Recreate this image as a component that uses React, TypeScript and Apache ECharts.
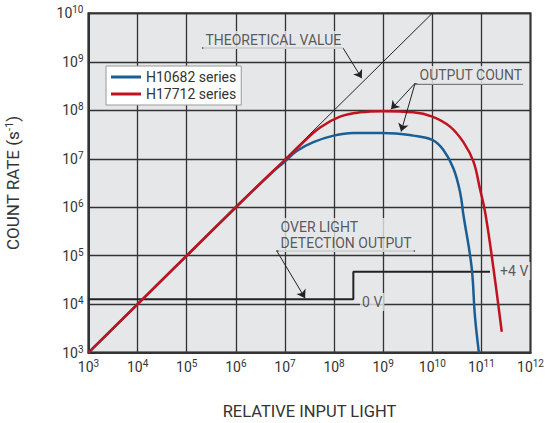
import React, { useEffect, useRef } from "react";
import * as echarts from "echarts";

// ---- data ----
const seriesNames = ["H10682 series", "H17712 series"];

// H10682 series: [relative input light, count rate]
const h10682: [number, number][] = [
  [1e3, 1e3], [1e4, 1e4], [1e5, 1e5], [1e6, 1e6], [5e6, 4.8e6], [1e7, 8.8e6],
  [1.74e7, 1.45e7], [3.8e7, 2.2e7], [9.8e7, 3.0e7], [2.45e8, 3.4e7], [1e9, 3.4e7],
  [4.1e9, 3.0e7], [1e10, 2.45e7], [1.7e10, 1.5e7], [2.7e10, 6.3e6], [3.7e10, 2.0e6],
  [4.3e10, 7e5], [6.3e10, 6e4], [7.4e10, 5.6e3], [8.9e10, 1e3],
];

// H17712 series
const h17712: [number, number][] = [
  [1e3, 1e3], [1e4, 1e4], [1e5, 1e5], [1e6, 1e6], [5e6, 4.9e6], [1e7, 9.4e6],
  [2.04e7, 1.9e7], [5.2e7, 4.4e7], [1.32e8, 7.4e7], [3.4e8, 9.1e7], [1e9, 9.6e7],
  [4.1e9, 9.1e7], [1e10, 7.4e7], [2.3e10, 4.6e7], [4.3e10, 2.2e7], [6.9e10, 8.7e6],
  [9.3e10, 2.45e6], [1.2e11, 7.6e5], [1.74e11, 6e4], [2.6e11, 2.7e3],
];

// theoretical value (count = input)
const theoretical: [number, number][] = [[1e3, 1e3], [1e10, 1e10]];

// over light detection output (0 V -> +4 V step)
const overLight: [number, number][] = [
  [1e3, 1.27e4], [2.47e8, 1.27e4], [2.47e8, 4.7e4], [1.5e11, 4.7e4],
];

const xTickExponents = [3, 4, 5, 6, 7, 8, 9, 10, 11, 12];
const yTickExponents = [3, 4, 5, 6, 7, 8, 9, 10];

const BLUE = "#1b5e93";
const RED = "#c1121f";
const PLOT_BG = "#e6e7e8";
const INK = "#333";

const p = (ex: number, ey: number): [number, number] => [Math.pow(10, ex), Math.pow(10, ey)];

const supLabel = (v: number) => {
  const e = Math.round(Math.log10(v));
  return `{b|10}{s|${e}}`;
};

const tickRich = {
  b: { fontSize: 14, color: INK, fontFamily: "Roboto" },
  s: { fontSize: 10, color: INK, fontFamily: "Roboto", padding: [0, 0, 7, 0] },
};

export default function App() {
  const ref = useRef<HTMLDivElement>(null);
  useEffect(() => {
    if (!ref.current) return;
    const chart = echarts.init(ref.current, null, { renderer: "svg" });
    const labelStyle = {
      show: true,
      position: "right",
      distance: 0,
      fontSize: 14,
      color: INK,
      fontFamily: "Roboto",
      backgroundColor: PLOT_BG,
      padding: [1, 2],
      lineHeight: 16,
    };
    const option: any = {
      animation: false,
      backgroundColor: "#fff",
      textStyle: { fontFamily: "Roboto" },
      grid: {
        left: 88.5, right: 16.5, top: 13.3, bottom: 70.3,
        containLabel: false, outerBoundsMode: "none",
        show: true, backgroundColor: PLOT_BG, borderColor: INK, borderWidth: 2,
      },
      legend: {
        data: seriesNames,
        orient: "vertical",
        left: 106, top: 66,
        backgroundColor: "#fff", borderColor: "#999", borderWidth: 1,
        padding: [4, 5, 4, 5], itemGap: 3, itemWidth: 30, itemHeight: 3,
        icon: "rect",
        textStyle: { fontSize: 14, color: INK, fontFamily: "Roboto" },
      },
      xAxis: {
        type: "log", logBase: 10, min: 1e3, max: 1e12, splitNumber: 9,
        axisLine: { show: true, lineStyle: { color: INK, width: 2 } },
        axisTick: { show: false },
        splitLine: { show: true, lineStyle: { color: "#333", width: 1.3 } },
        axisLabel: {
          formatter: (v: number) => (xTickExponents.includes(Math.round(Math.log10(v))) ? supLabel(v) : ""),
          rich: tickRich, margin: 6,
        },
        name: "RELATIVE INPUT LIGHT", nameLocation: "middle", nameGap: 50,
        nameTextStyle: { fontSize: 16.5, color: INK, fontFamily: "Roboto" },
      },
      yAxis: {
        type: "log", logBase: 10, min: 1e3, max: 1e10, splitNumber: 7,
        axisLine: { show: true, lineStyle: { color: INK, width: 2 } },
        axisTick: { show: false },
        splitLine: { show: true, lineStyle: { color: "#333", width: 1.3 } },
        axisLabel: {
          formatter: (v: number) => (yTickExponents.includes(Math.round(Math.log10(v))) ? supLabel(v) : ""),
          rich: tickRich, margin: 5,
        },
        name: "{a|COUNT RATE (s}{s|-1}{a|)}", nameLocation: "middle", nameGap: 66,
        nameTextStyle: {
          rich: {
            a: { fontSize: 17, color: INK, fontFamily: "Roboto" },
            s: { fontSize: 11, color: INK, fontFamily: "Roboto", padding: [0, 0, 8, 0] },
          },
        },
      },
      series: [
        {
          name: "Theoretical", type: "line", data: theoretical, showSymbol: false,
          lineStyle: { color: "#222", width: 1 }, silent: true, z: 2,
        },
        {
          name: "Over light", type: "line", data: overLight, showSymbol: false,
          lineStyle: { color: "#222", width: 2 }, silent: true, z: 2,
        },
        {
          name: seriesNames[0], type: "line", data: h10682, showSymbol: false, smooth: 0.4,
          itemStyle: { color: BLUE }, lineStyle: { color: BLUE, width: 2.5 }, z: 3,
        },
        {
          name: seriesNames[1], type: "line", data: h17712, showSymbol: false, smooth: 0.4,
          itemStyle: { color: RED }, lineStyle: { color: RED, width: 2.5 }, z: 4,
        },
        {
          type: "lines", coordinateSystem: "cartesian2d", silent: true, z: 5,
          lineStyle: { color: "#7a7a7a", width: 2, opacity: 1 }, symbol: ["none", "none"],
          data: [
            { coords: [p(5.31, 9.29), p(8.18, 9.29)] },
            { coords: [p(9.65, 8.557), p(11.85, 8.557)] },
            { coords: [p(6.83, 5.105), p(9.65, 5.105)] },
          ],
        },
        {
          type: "lines", coordinateSystem: "cartesian2d", silent: true, z: 6,
          lineStyle: { color: "#222", width: 1, opacity: 1 },
          symbol: ["none", "arrow"], symbolSize: 8,
          data: [
            { coords: [p(8.18, 9.29), p(8.565, 8.66)] },
            { coords: [p(9.65, 8.557), p(9.16, 8.02)] },
            { coords: [p(9.65, 8.557), p(9.365, 7.56)] },
            { coords: [p(6.83, 5.105), p(7.41, 4.124)] },
          ],
        },
        {
          type: "scatter", silent: true, symbolSize: 1, z: 7,
          itemStyle: { color: "rgba(0,0,0,0)" },
          label: labelStyle,
          data: [
            { value: p(5.33, 9.45), label: { formatter: "THEORETICAL VALUE" } },
            { value: p(9.69, 8.728), label: { formatter: "OUTPUT COUNT" } },
            { value: p(6.86, 5.43), label: { formatter: "OVER LIGHT\nDETECTION OUTPUT" } },
            { value: p(8.52, 4.047), label: { formatter: "0 V" } },
            { value: p(11.33, 4.687), label: { formatter: "+4 V" } },
          ],
        },
      ],
    };
    chart.setOption(option);
    return () => chart.dispose();
  }, []);
  return <div ref={ref} style={{ width: 547, height: 423, position: "absolute", left: 0, top: 0 }} />;
}
